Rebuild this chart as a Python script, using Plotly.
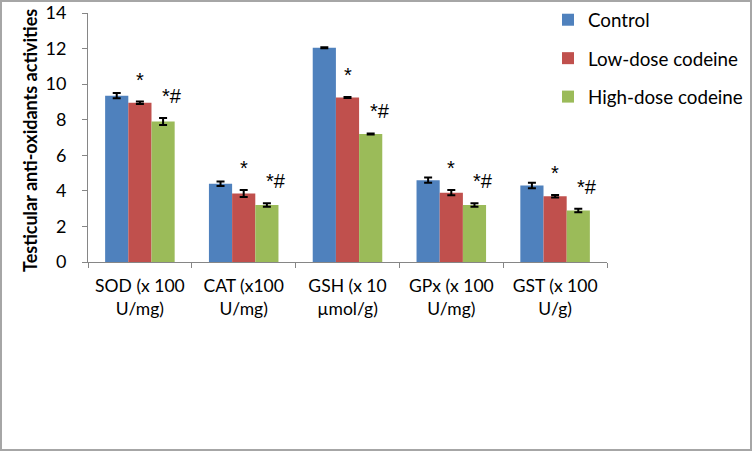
import plotly.graph_objects as go

categories = ["SOD (x 100<br>U/mg)", "CAT (x100<br>U/mg)", "GSH (x 10<br>µmol/g)", "GPx (x 100<br>U/mg)", "GST (x 100<br>U/g)"]
series_names = ["Control", "Low-dose codeine", "High-dose codeine"]
control = [9.35, 4.4, 12.05, 4.6, 4.3]
low_dose = [8.95, 3.85, 9.25, 3.9, 3.7]
high_dose = [7.9, 3.2, 7.2, 3.2, 2.9]
control_err = [0.15, 0.12, 0.03, 0.15, 0.15]
low_err = [0.07, 0.2, 0.03, 0.15, 0.07]
high_err = [0.2, 0.1, 0.03, 0.1, 0.1]
low_marks = ["*"] * 5
high_marks = ["*#"] * 5
y_title = "Testicular anti-oxidants activities"
colors = ["#4F81BD", "#C0504D", "#9BBB59"]

W, H = 752, 451
L, R, T, B = 88, 145, 13, 189

fig = go.Figure()
for i, (name, vals, errs) in enumerate(zip(series_names, [control, low_dose, high_dose], [control_err, low_err, high_err])):
    fig.add_trace(go.Bar(
        x=categories, y=vals, name=name, marker_color=colors[i],
        marker_line_width=0,
        legendgroup=name,
        error_y=dict(type="data", array=errs, color="black", thickness=2, width=4),
        offsetgroup=str(i),
    ))

pw = W - L - R
ph = H - T - B

annotations = []
for j, cat in enumerate(categories):
    annotations.append(dict(x=cat, y=low_dose[j] + low_err[j], text=low_marks[j], showarrow=False,
                            xref="x", yref="y", yshift=22, xshift=0,
                            font=dict(size=20, color="black", family="Liberation Sans")))
    annotations.append(dict(x=cat, y=high_dose[j] + high_err[j], text=high_marks[j], showarrow=False,
                            xref="x", yref="y", yshift=22, xshift=32,
                            font=dict(size=20, color="black", family="Liberation Sans")))
annotations.append(dict(text="<b>" + y_title + "</b>", textangle=-90, showarrow=False,
                        xref="paper", yref="paper", x=(30 - L) / pw, y=(262 - 141) / ph,
                        xanchor="center", yanchor="middle",
                        font=dict(size=18, family="Lato", color="black")))

shapes = [dict(type="rect", xref="paper", yref="paper",
               x0=(-L + 1) / pw, x1=(W - L - 1) / pw,
               y0=(-B + 1) / ph, y1=(ph + T - 1) / ph,
               line=dict(color="#A6A6A6", width=2))]

fig.update_layout(
    width=W, height=H,
    margin=dict(l=L, r=R, t=T, b=B, autoexpand=False),
    paper_bgcolor="white", plot_bgcolor="white",
    font=dict(family="Lato", size=17, color="black"),
    barmode="group", bargap=0.33, bargroupgap=0,
    showlegend=True,
    legend=dict(x=(548 - L) / pw, y=1 + 12 / ph, xanchor="left", yanchor="top",
                font=dict(size=18.8, family="Lato"), tracegroupgap=11,
                bgcolor="rgba(0,0,0,0)", itemwidth=30),
    annotations=annotations,
    shapes=shapes,
    xaxis=dict(showline=True, linecolor="#868686", linewidth=1, ticks="outside",
               tickson="boundaries", ticklen=5, tickcolor="#868686",
               tickfont=dict(size=17.5, family="Lato"), showgrid=False,
               ticklabelstandoff=8),
    yaxis=dict(range=[0, 14], dtick=2, showline=True, linecolor="#868686", linewidth=1,
               ticks="outside", ticklen=5, tickcolor="#868686", showgrid=False,
               tickfont=dict(size=18, family="Lato"), zeroline=False,
               ticklabelstandoff=12),
)

fig.write_html("out.html", config={"displayModeBar": False},
               post_script="document.body.style.margin='0';document.body.style.overflow='hidden';")
